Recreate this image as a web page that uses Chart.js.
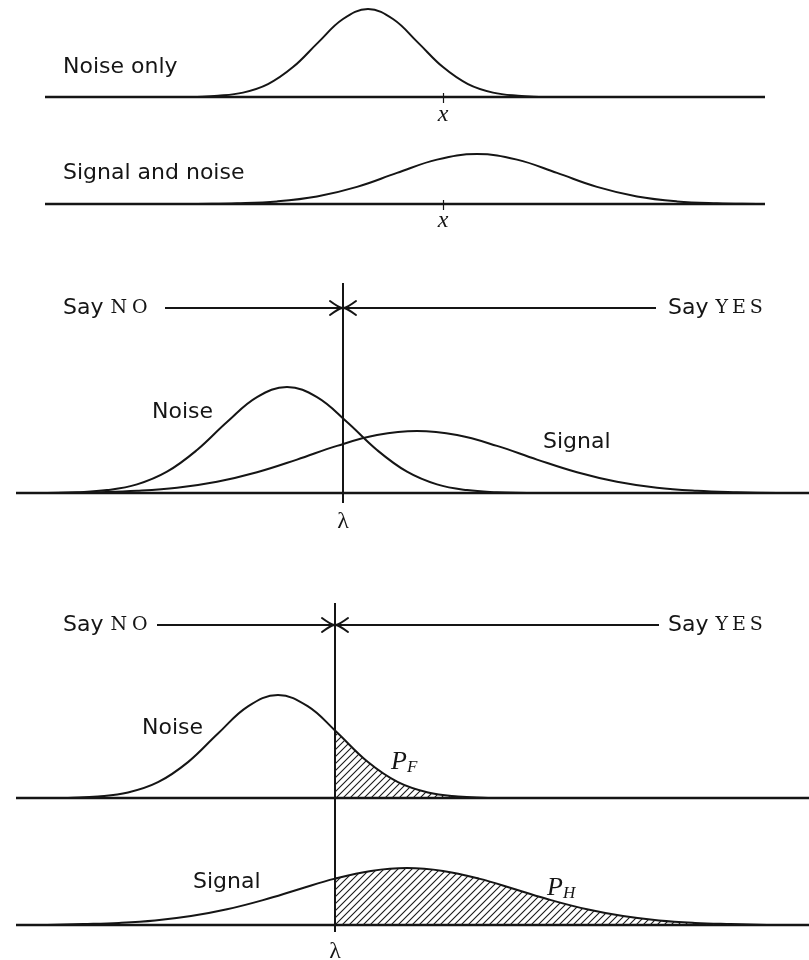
<!DOCTYPE html>
<html>
<head>
<meta charset="utf-8">
<script src="https://cdn.jsdelivr.net/npm/chart.js@4.4.1/dist/chart.umd.min.js"></script>
<style>
  html, body { margin: 0; background: #fff; }
</style>
</head>
<body>
<canvas id="fig" width="809" height="960"></canvas>
<script>
// ---- data (x in stimulus units, heights in density units) ----
const noiseOnlyX = [193, 218, 243, 268, 293, 318, 343, 368, 393, 418, 443, 468, 493, 518, 543];
const noiseOnlyY = [0, 1.2, 4.4, 12.9, 29.9, 54.4, 78, 88, 78, 54.4, 29.9, 12.9, 4.4, 1.2, 0];

const sigNoiseX = [197, 237, 277, 317, 357, 397, 437, 477, 517, 557, 597, 637, 677, 717, 757];
const sigNoiseY = [0, 0.7, 2.6, 7.5, 17.1, 31.1, 44.4, 50, 44.4, 31.1, 17.1, 7.5, 2.6, 0.7, 0];

const critNoiseX = [47, 77, 107, 137, 167, 197, 227, 257, 287, 317, 347, 377, 407, 437, 467, 497, 527];
const critNoiseY = [0, 0.8, 2.9, 8.6, 21.3, 43, 71, 95.9, 106, 95.9, 71, 43, 21.3, 8.6, 2.9, 0.8, 0];
const critSignalX = [57, 97, 137, 177, 217, 257, 297, 337, 377, 417, 457, 497, 537, 577, 617, 657, 697, 737, 777];
const critSignalY = [0, 0.8, 2.2, 5.2, 11.2, 20.7, 33.4, 47.1, 57.9, 62, 57.9, 47.1, 33.4, 20.7, 11.2, 5.2, 2.2, 0.8, 0];

const pfNoiseX = [68, 98, 128, 158, 188, 218, 248, 278, 308, 335, 368, 398, 428, 458, 488];
const pfNoiseY = [0, 1.5, 5.5, 15.8, 35.9, 64.5, 91.6, 103, 91.6, 67.5, 35.9, 15.8, 5.5, 1.5, 0];
const phSignalX = [47, 83, 119, 155, 191, 227, 263, 299, 335, 371, 407, 443, 479, 515, 551, 587, 623, 659, 695, 731, 767];
const phSignalY = [0, 0.9, 2.1, 4.5, 8.9, 15.7, 24.9, 35.8, 46.4, 54.1, 57, 54.1, 46.4, 35.8, 24.9, 15.7, 8.9, 4.5, 2.1, 0.9, 0];

const topSpan = [45, 765];       // x range of the two upper axes
const lowSpan = [16, 809];       // x range of the lower axes
const xTick = 443;               // the "x" tick
const lambda3 = 343;             // criterion, third panel
const lambda4 = 335;             // criterion, last panel

// ---- layout (not data) ----
const ink = '#151515';
const W = 809, H = 960;
const baselines = { r1: 97, r2: 204, r3: 493, r4n: 798, r4s: 925 };
const sans = '22px "DejaVu Sans"';
const caps = '19px "DejaVu Serif"';
const mathIt = 'italic 24px "Liberation Serif"';
const lam = '24px "Liberation Serif"';

const pts = (xs, ys) => xs.map((x, i) => ({ x, y: ys[i] }));
const span = (s) => [{ x: s[0], y: 0 }, { x: s[1], y: 0 }];

// open arrow head as a point style
function chevron(dir) {
  const L = 12, h = 7, c = document.createElement('canvas');
  c.width = 2 * L + 6; c.height = 2 * h + 6;
  const g = c.getContext('2d'), cx = c.width / 2, cy = c.height / 2;
  g.strokeStyle = ink; g.lineWidth = 2; g.lineCap = 'round';
  g.beginPath();
  g.moveTo(cx - dir * L, cy - h);
  g.quadraticCurveTo(cx - dir * 4, cy - 1, cx, cy);
  g.quadraticCurveTo(cx - dir * 4, cy + 1, cx - dir * L, cy + h);
  g.stroke();
  return c;
}
const headRight = chevron(1), headLeft = chevron(-1);

// diagonal hatch
const tile = document.createElement('canvas');
tile.width = tile.height = 7;
const tg = tile.getContext('2d');
tg.strokeStyle = '#1a1a1a'; tg.lineWidth = 1.1;
tg.beginPath();
tg.moveTo(0, 7); tg.lineTo(7, 0);
tg.moveTo(-1, 1); tg.lineTo(1, -1);
tg.moveTo(6, 8); tg.lineTo(8, 6);
tg.stroke();
const hatch = tg.createPattern(tile, 'repeat');

const curve = (data, axis, extra) => Object.assign({
  data, yAxisID: axis, borderColor: ink, borderWidth: 2, pointRadius: 0,
  tension: 0.4, fill: false
}, extra || {});
const rule = (data, axis, w) => ({
  data, yAxisID: axis, borderColor: ink, borderWidth: w || 2.4, pointRadius: 0, tension: 0, fill: false
});
const arrow = (from, to, level, axis, head) => ({
  data: [{ x: from, y: level }, { x: to, y: level }], yAxisID: axis,
  borderColor: ink, borderWidth: 2, tension: 0, fill: false,
  pointStyle: head, pointRadius: (c) => c.dataIndex === 1 ? 8 : 0
});

const datasets = [
  rule(span(topSpan), 'r1'),
  curve(pts(noiseOnlyX, noiseOnlyY), 'r1'),
  rule(span(topSpan), 'r2'),
  curve(pts(sigNoiseX, sigNoiseY), 'r2'),

  rule(span(lowSpan), 'r3'),
  curve(pts(critNoiseX, critNoiseY), 'r3'),
  curve(pts(critSignalX, critSignalY), 'r3'),
  rule([{ x: lambda3, y: 210 }, { x: lambda3, y: -10 }], 'r3', 2),
  arrow(165, lambda3 - 1, 185, 'r3', headRight),
  arrow(656, lambda3 + 1, 185, 'r3', headLeft),

  // hatched tails right of the criterion
  curve(pts(pfNoiseX, pfNoiseY).filter(p => p.x >= lambda4), 'r4n', { borderWidth: 0, fill: 'origin', backgroundColor: hatch }),
  curve(pts(phSignalX, phSignalY).filter(p => p.x >= lambda4), 'r4s', { borderWidth: 0, fill: 'origin', backgroundColor: hatch }),
  rule(span(lowSpan), 'r4n'),
  curve(pts(pfNoiseX, pfNoiseY), 'r4n'),
  rule(span(lowSpan), 'r4s'),
  curve(pts(phSignalX, phSignalY), 'r4s'),
  rule([{ x: lambda4, y: 195 }, { x: lambda4, y: -134 }], 'r4n', 2),
  arrow(157, lambda4 - 1, 173, 'r4n', headRight),
  arrow(659, lambda4 + 1, 173, 'r4n', headLeft)
];

// text pieces, placed in the units of their own row
const labels = [
  { axis: 'r1', x: 63, y: 30, parts: [{ t: 'Noise only', f: sans }] },
  { axis: 'r1', x: xTick, y: -18, align: 'center', parts: [{ t: 'x', f: mathIt }] },
  { axis: 'r2', x: 63, y: 31, parts: [{ t: 'Signal and noise', f: sans }] },
  { axis: 'r2', x: xTick, y: -17, align: 'center', parts: [{ t: 'x', f: mathIt }] },

  { axis: 'r3', x: 63, y: 185, parts: [{ t: 'Say ', f: sans }, { t: 'NO', f: caps, ls: 5 }] },
  { axis: 'r3', x: 668, y: 185, parts: [{ t: 'Say ', f: sans }, { t: 'YES', f: caps, ls: 4 }] },
  { axis: 'r3', x: 152, y: 81, parts: [{ t: 'Noise', f: sans }] },
  { axis: 'r3', x: 543, y: 51, parts: [{ t: 'Signal', f: sans }] },
  { axis: 'r3', x: lambda3, y: -29, align: 'center', parts: [{ t: 'λ', f: lam }] },

  { axis: 'r4n', x: 63, y: 173, parts: [{ t: 'Say ', f: sans }, { t: 'NO', f: caps, ls: 5 }] },
  { axis: 'r4n', x: 668, y: 173, parts: [{ t: 'Say ', f: sans }, { t: 'YES', f: caps, ls: 4 }] },
  { axis: 'r4n', x: 142, y: 70, parts: [{ t: 'Noise', f: sans }] },
  { axis: 'r4n', x: 391, y: 36, parts: [{ t: 'P', f: 'italic 26px "Liberation Serif"' }, { t: 'F', f: 'italic 17px "Liberation Serif"', dy: 6 }] },
  { axis: 'r4s', x: 193, y: 43, parts: [{ t: 'Signal', f: sans }] },
  { axis: 'r4s', x: 547, y: 37, parts: [{ t: 'P', f: 'italic 26px "Liberation Serif"' }, { t: 'H', f: 'italic 17px "Liberation Serif"', dy: 6 }] },
  { axis: 'r4s', x: lambda4, y: -27, align: 'center', parts: [{ t: 'λ', f: lam }] }
];

const annotate = {
  id: 'annotate',
  afterDatasetsDraw(chart) {
    const ctx = chart.ctx, xs = chart.scales.x;
    ctx.save();
    ctx.fillStyle = ink; ctx.strokeStyle = ink;
    // small ticks at x on the two top axes
    ['r1', 'r2'].forEach(a => {
      const px = Math.round(xs.getPixelForValue(xTick)) + 0.5, py = chart.scales[a].getPixelForValue(0);
      ctx.lineWidth = 1.2;
      ctx.beginPath(); ctx.moveTo(px, py - 4); ctx.lineTo(px, py + 6); ctx.stroke();
    });
    ctx.textBaseline = 'middle';
    labels.forEach(l => {
      let px = xs.getPixelForValue(l.x);
      const py = chart.scales[l.axis].getPixelForValue(l.y);
      ctx.textAlign = l.align || 'left';
      l.parts.forEach(p => {
        ctx.font = p.f;
        ctx.letterSpacing = (p.ls || 0) + 'px';
        ctx.fillText(p.t, px, py + (p.dy || 0));
        px += ctx.measureText(p.t).width;
      });
    });
    ctx.restore();
  }
};

const rowAxis = (b) => ({ type: 'linear', axis: 'y', position: 'left', display: false, min: b - H, max: b });

new Chart(document.getElementById('fig'), {
  type: 'line',
  data: { datasets },
  options: {
    responsive: false,
    animation: false,
    events: [],
    layout: { padding: 0, autoPadding: false },
    plugins: { legend: { display: false }, tooltip: { enabled: false } },
    scales: {
      x: { type: 'linear', display: false, min: 0, max: W },
      r1: rowAxis(baselines.r1),
      r2: rowAxis(baselines.r2),
      r3: rowAxis(baselines.r3),
      r4n: rowAxis(baselines.r4n),
      r4s: rowAxis(baselines.r4s)
    }
  },
  plugins: [annotate]
});
</script>
</body>
</html>
